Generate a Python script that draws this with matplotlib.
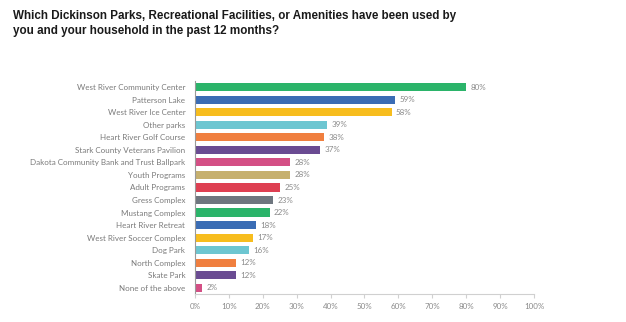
import matplotlib.pyplot as plt
from matplotlib.ticker import FuncFormatter

categories = ["West River Community Center", "Patterson Lake", "West River Ice Center",
              "Other parks", "Heart River Golf Course", "Stark County Veterans Pavilion",
              "Dakota Community Bank and Trust Ballpark", "Youth Programs", "Adult Programs",
              "Gress Complex", "Mustang Complex", "Heart River Retreat",
              "West River Soccer Complex", "Dog Park", "North Complex", "Skate Park",
              "None of the above"]
values = [80, 59, 58, 39, 38, 37, 28, 28, 25, 23, 22, 18, 17, 16, 12, 12, 2]
colors = ["#2bb46a", "#3a6cb4", "#f7bd1e", "#6dc6d1", "#f07f3f", "#6a4b92",
          "#d44f85", "#c6b06e", "#de3f52", "#6e767f", "#2bb46a", "#3a6cb4",
          "#f7bd1e", "#6dc6d1", "#f07f3f", "#6a4b92", "#d44f85"]
title = ("Which Dickinson Parks, Recreational Facilities, or Amenities have been used by\n"
         "you and your household in the past 12 months?")

FONT = "Lato"
FS = 5.8
fig = plt.figure(figsize=(6.26, 3.22), dpi=100)
ax = fig.add_axes([0.3115, 0.087, 0.5415, 0.6615])
y = list(range(len(categories)))
ax.barh(y, values, color=colors, height=0.65)
ax.set_ylim(len(categories) - 0.5, -0.5)
ax.set_xlim(0, 100)
ax.set_xticks(range(0, 101, 10))
ax.xaxis.set_major_formatter(FuncFormatter(lambda v, p: f"{int(v)}%"))
ax.set_yticks(y)
ax.set_yticklabels(categories)
for yi, v in zip(y, values):
    ax.text(v + 1.3, yi, f"{v}%", va="center", ha="left", fontsize=FS,
            color="#8a8a8a", family=FONT)
for s in ["top", "right"]:
    ax.spines[s].set_visible(False)
ax.spines["left"].set_color("#9a9a9a")
ax.spines["bottom"].set_color("#d0d0d0")
ax.tick_params(axis="y", length=0, pad=7, labelsize=FS, labelcolor="#7a7a7a")
ax.tick_params(axis="x", length=3, color="#d0d0d0", labelsize=FS, labelcolor="#8a8a8a")
for lab in ax.get_yticklabels() + ax.get_xticklabels():
    lab.set_family(FONT)
fig.text(0.021, 0.968, title, ha="left", va="top", fontsize=8.4, fontweight="bold",
         family="Liberation Sans", color="#1a1a1a", linespacing=1.3)
fig.savefig("out.png", dpi=100)
